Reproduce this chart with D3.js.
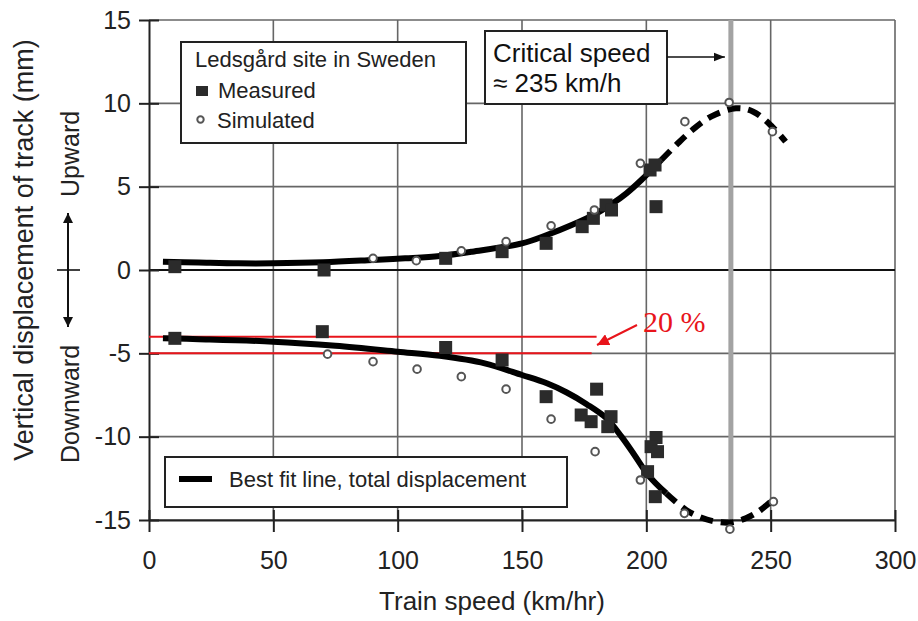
<!DOCTYPE html>
<html><head><meta charset="utf-8">
<script src="https://cdn.jsdelivr.net/npm/d3@7/dist/d3.min.js"></script>
<style>body{margin:0;background:#fff}svg{display:block}</style>
</head><body><svg id="c" width="918" height="621"></svg>
<script>
const xTicks = [0,50,100,150,200,250,300];
const yTicks = [15,10,5,0,-5,-10,-15];

const measuredUp = [[10.4,0.2],[70.4,0.0],[119.3,0.7],[142,1.1],[159.7,1.6],[174.2,2.6],[178.7,3.1],[183.8,3.9],[186,3.6],[201.5,6.0],[203.5,6.3],[203.9,3.8]];
const measuredDown = [[10.4,-4.1],[69.7,-3.7],[119.3,-4.65],[142,-5.4],[159.7,-7.6],[180,-7.15],[173.8,-8.7],[177.8,-9.1],[185.8,-8.8],[184.5,-9.4],[203.9,-10.05],[201.9,-10.6],[204.5,-10.9],[200.5,-12.1],[203.6,-13.6]];
const simulatedUp = [[90.1,0.7],[107.5,0.56],[125.6,1.15],[143.6,1.7],[161.7,2.65],[179.1,3.6],[197.6,6.4],[215.5,8.9],[233.3,10.05],[250.7,8.3]];
const simulatedDown = [[71.8,-5.05],[90.1,-5.5],[107.8,-5.95],[125.6,-6.4],[143.6,-7.15],[161.7,-8.95],[179.4,-10.9],[197.6,-12.6],[215.3,-14.6],[233.6,-15.55],[251.1,-13.9]];

const fitUpSolid = [[5.6,0.5],[20,0.45],[36,0.4],[50,0.4],[70,0.46],[90,0.6],[103,0.7],[117,0.84],[130,1.1],[150,1.6],[160,2.1],[170,2.7],[180,3.4],[186.5,4.0],[192,4.6],[198,5.4],[206,6.6]];
const fitUpDash = [[206,6.6],[212,7.5],[218.5,8.4],[226,9.2],[236,9.7],[243,9.5],[250.6,8.6],[256,7.7]];
const fitDownSolid = [[5.6,-4.1],[20,-4.15],[50,-4.3],[75,-4.55],[100,-4.9],[117,-5.15],[135,-5.6],[150,-6.3],[160,-6.8],[168,-7.35],[176,-8.05],[184,-8.9],[190,-10.0],[195,-11.05],[201,-12.35],[208,-13.4]];
const fitDownDash = [[208,-13.4],[216,-14.4],[222,-14.85],[228,-15.1],[234,-15.15],[240,-14.9],[245,-14.5],[250,-13.9]];

const criticalSpeed = 234;
const band = [-4, -5];
const bandEnd = [180, 178];

const svg = d3.select("#c");
const x = d3.scaleLinear().domain([0,300]).range([149,895]);
const y = d3.scaleLinear().domain([-15,15]).range([520,20]);
const font = "'Liberation Sans', Arial, sans-serif";

// grid
svg.append("g").selectAll("line").data(xTicks.slice(1)).join("line")
  .attr("x1",d=>x(d)).attr("x2",d=>x(d)).attr("y1",y(15)).attr("y2",y(-15))
  .attr("stroke","#666").attr("stroke-width",1.6);
svg.append("g").selectAll("line").data(yTicks.filter(d=>d!==0)).join("line")
  .attr("x1",x(0)).attr("x2",x(300)).attr("y1",d=>y(d)).attr("y2",d=>y(d))
  .attr("stroke","#666").attr("stroke-width",1.6);
svg.append("line").attr("x1",x(0)).attr("x2",x(300)).attr("y1",y(0)).attr("y2",y(0))
  .attr("stroke","#111").attr("stroke-width",2.2);

// critical speed line
svg.append("line").attr("x1",x(criticalSpeed)).attr("x2",x(criticalSpeed))
  .attr("y1",y(15)).attr("y2",y(-15)).attr("stroke","#a3a3a3").attr("stroke-width",5);

// axes
const fmt = d => String(d);
const xAxis = d3.axisBottom(x).tickValues(xTicks).tickFormat(fmt).tickSize(12).tickSizeOuter(0).tickPadding(19);
const gx = svg.append("g").attr("transform",`translate(0,${y(-15)})`).call(xAxis);
gx.select(".domain").attr("stroke","#222").attr("stroke-width",2);
gx.selectAll(".tick line").attr("stroke","#222").attr("stroke-width",2).attr("y1",-10);
gx.selectAll("text").attr("font-family",font).attr("font-size",25).attr("fill","#222");

const yAxis = d3.axisLeft(y).tickValues(yTicks).tickFormat(fmt).tickSize(10).tickSizeOuter(0).tickPadding(8);
const gy = svg.append("g").attr("transform",`translate(${x(0)},0)`).call(yAxis);
gy.select(".domain").attr("stroke","#222").attr("stroke-width",2);
gy.selectAll(".tick line").attr("stroke","#222").attr("stroke-width",2).attr("x1",10);
gy.selectAll("text").attr("font-family",font).attr("font-size",25).attr("fill","#222");

// red band lines
svg.append("g").selectAll("line").data(band).join("line")
  .attr("x1",x(0)).attr("x2",(d,i)=>x(bandEnd[i])).attr("y1",d=>y(d)).attr("y2",d=>y(d))
  .attr("stroke","#e8141b").attr("stroke-width",2);

// fit lines
const line = d3.line().x(d=>x(d[0])).y(d=>y(d[1])).curve(d3.curveCatmullRom);
[fitUpSolid, fitDownSolid].forEach(s=>svg.append("path").attr("d",line(s))
  .attr("fill","none").attr("stroke","#000").attr("stroke-width",6).attr("stroke-linecap","butt"));
[fitUpDash, fitDownDash].forEach(s=>svg.append("path").attr("d",line(s))
  .attr("fill","none").attr("stroke","#000").attr("stroke-width",6).attr("stroke-dasharray","13,8"));

// points
const sq = 13;
svg.append("g").selectAll("rect").data(measuredUp.concat(measuredDown)).join("rect")
  .attr("x",d=>x(d[0])-sq/2).attr("y",d=>y(d[1])-sq/2).attr("width",sq).attr("height",sq)
  .attr("fill","#2b2b2b");
svg.append("g").selectAll("circle").data(simulatedUp.concat(simulatedDown)).join("circle")
  .attr("cx",d=>x(d[0])).attr("cy",d=>y(d[1])).attr("r",3.8)
  .attr("fill","#fff").attr("stroke","#555").attr("stroke-width",2);

// legend 1
const l1 = svg.append("g");
l1.append("rect").attr("x",181).attr("y",42).attr("width",285).attr("height",101)
  .attr("fill","#fff").attr("stroke","#222").attr("stroke-width",2);
l1.append("text").attr("x",195).attr("y",67).text("Ledsgård site in Sweden")
  .attr("font-family",font).attr("font-size",22).attr("fill","#222");
l1.append("rect").attr("x",196).attr("y",86).attr("width",12).attr("height",10).attr("fill","#2b2b2b");
l1.append("text").attr("x",218).attr("y",98).text("Measured")
  .attr("font-family",font).attr("font-size",22).attr("fill","#222");
l1.append("circle").attr("cx",200.5).attr("cy",119.5).attr("r",3.2).attr("fill","#fff").attr("stroke","#555").attr("stroke-width",2);
l1.append("text").attr("x",217).attr("y",128).text("Simulated")
  .attr("font-family",font).attr("font-size",22).attr("fill","#222");

// critical speed box
const cb = svg.append("g");
cb.append("rect").attr("x",485).attr("y",31).attr("width",182).attr("height",73)
  .attr("fill","#fff").attr("stroke","#222").attr("stroke-width",2);
cb.append("text").attr("x",493).attr("y",62).text("Critical speed")
  .attr("font-family",font).attr("font-size",26).attr("fill","#111");
cb.append("text").attr("x",493).attr("y",92).text("≈ 235 km/h")
  .attr("font-family",font).attr("font-size",26).attr("fill","#111");
svg.append("defs").html(`
<marker id="ab" viewBox="0 0 10 10" refX="10" refY="5" markerWidth="7" markerHeight="7" orient="auto"><path d="M0,1 L10,5 L0,9 z" fill="#111"/></marker>
<marker id="ar" viewBox="0 0 10 10" refX="10" refY="5" markerWidth="6" markerHeight="6" orient="auto"><path d="M0,0 L10,5 L0,10 z" fill="#e8141b"/></marker>
<marker id="ak" viewBox="0 0 10 10" refX="10" refY="5" markerWidth="5" markerHeight="5" orient="auto"><path d="M0,0 L10,5 L0,10 z" fill="#111"/></marker>`);
svg.append("line").attr("x1",667).attr("y1",57).attr("x2",x(criticalSpeed)-6).attr("y2",57)
  .attr("stroke","#111").attr("stroke-width",1.6).attr("marker-end","url(#ab)");

// 20% annotation
svg.append("line").attr("x1",637).attr("y1",325).attr("x2",597).attr("y2",345)
  .attr("stroke","#e8141b").attr("stroke-width",2).attr("marker-end","url(#ar)");
svg.append("text").attr("x",643).attr("y",332).text("20 %")
  .attr("font-family","'Liberation Serif', 'Times New Roman', serif").attr("font-size",30).attr("fill","#e8141b");

// legend 2
const l2 = svg.append("g");
l2.append("rect").attr("x",165).attr("y",457).attr("width",402).attr("height",50)
  .attr("fill","#fff").attr("stroke","#222").attr("stroke-width",2);
l2.append("line").attr("x1",179).attr("x2",212).attr("y1",479).attr("y2",479).attr("stroke","#000").attr("stroke-width",6);
l2.append("text").attr("x",229).attr("y",487).text("Best fit line, total displacement")
  .attr("font-family",font).attr("font-size",22).attr("fill","#222");

// axis titles
svg.append("text").attr("x",492).attr("y",610).attr("text-anchor","middle").text("Train speed (km/hr)")
  .attr("font-family",font).attr("font-size",26).attr("fill","#222");
svg.append("text").attr("transform","translate(33,250) rotate(-90)").attr("text-anchor","middle")
  .text("Vertical displacement of track (mm)").attr("font-family",font).attr("font-size",27).attr("fill","#222");
svg.append("text").attr("transform","translate(79,197) rotate(-90)").attr("text-anchor","start")
  .text("Upward").attr("font-family",font).attr("font-size",25).attr("fill","#222");
svg.append("text").attr("transform","translate(79,463) rotate(-90)").attr("text-anchor","start")
  .text("Downward").attr("font-family",font).attr("font-size",25).attr("fill","#222");
svg.append("line").attr("x1",68).attr("x2",68).attr("y1",270).attr("y2",213)
  .attr("stroke","#111").attr("stroke-width",2).attr("marker-end","url(#ak)");
svg.append("line").attr("x1",68).attr("x2",68).attr("y1",270).attr("y2",327)
  .attr("stroke","#111").attr("stroke-width",2).attr("marker-end","url(#ak)");
svg.append("line").attr("x1",57).attr("x2",80).attr("y1",270).attr("y2",270)
  .attr("stroke","#111").attr("stroke-width",1.6);
</script></body></html>
